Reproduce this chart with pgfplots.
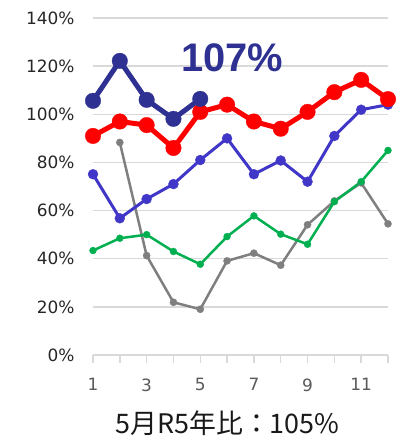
\documentclass[border=0pt]{standalone}
\usepackage{fontspec}
\setmainfont{DejaVu Sans}
\newfontfamily\cjk{Noto Sans CJK JP}
\newfontfamily\arialf{Liberation Sans}
\usepackage{pgfplots}
\pgfplotsset{compat=1.18}
\definecolor{navy}{HTML}{2E3192}
\definecolor{myred}{HTML}{FF0000}
\definecolor{myblue}{HTML}{4036C8}
\definecolor{mygreen}{HTML}{00B050}
\definecolor{mygray}{HTML}{7F7F7F}
\definecolor{gridgray}{HTML}{D9D9D9}
\definecolor{xgray}{HTML}{595959}
\begin{document}
\begin{tikzpicture}
\useasboundingbox (-93bp,-90bp) rectangle (309bp,355bp);
\begin{axis}[
 scale only axis, width=295bp, height=337bp,
 xmin=1, xmax=12, ymin=0, ymax=140,
 axis x line*=bottom, axis y line*=left,
 x axis line style={draw=gridgray, line width=1.5bp, -},
 y axis line style={draw=none, -},
 xtick={1,3,5,7,9,11}, minor xtick={2,4,6,8,10,12},
 tick align=outside, major tick length=8bp, minor tick length=8bp,
 xtick style={draw=gridgray, line width=1.5bp},
 minor tick style={draw=gridgray, line width=1.5bp},
 ytick={0,20,...,140}, ytick style={draw=none},
 ymajorgrids, grid style={draw=gridgray, line width=1.5bp},
 yticklabel={\pgfmathprintnumber{\tick}\%},
 /pgf/number format/assume math mode=true,
 ticklabel style={font=\fontsize{17}{17}\selectfont},
 yticklabel style={text=black!85, xshift=-7bp},
 xticklabel style={text=xgray, yshift=-12bp},
 clip=false,
 line join=round,
]
\addplot[mygray, line width=2.5bp, mark=*, mark size=3.6bp, mark options={line width=0.3bp}] coordinates {
 (2,88.3) (3,41.3) (4,21.9) (5,19) (6,39.1) (7,42.3) (8,37.3) (9,54.1) (10,64) (11,71.5) (12,54.5)};
\addplot[mygreen, line width=2.5bp, mark=*, mark size=3.5bp, mark options={line width=0.3bp}] coordinates {
 (1,43.4) (2,48.5) (3,50) (4,43) (5,37.7) (6,49.2) (7,57.8) (8,50.2) (9,46) (10,63.7) (11,72) (12,85)};
\addplot[myblue, line width=3bp, mark=*, mark size=5bp, mark options={line width=0.3bp}] coordinates {
 (1,75.1) (2,56.8) (3,64.8) (4,71) (5,81) (6,90) (7,75.1) (8,80.8) (9,72) (10,91) (11,101.9) (12,104)};
\addplot[myred, line width=5bp, mark=*, mark size=7.8bp, mark options={line width=0.3bp}] coordinates {
 (1,91) (2,97) (3,95.5) (4,86) (5,101) (6,104) (7,97) (8,94) (9,101) (10,109.2) (11,114.3) (12,106.3)};
\addplot[navy, line width=5bp, mark=*, mark size=7.8bp, mark options={line width=0.3bp}] coordinates {
 (1,105.6) (2,122.2) (3,106) (4,98.1) (5,106.4)};
\node[text=navy, inner sep=0pt, anchor=center, font=\arialf\bfseries\fontsize{40}{40}\selectfont] at (axis cs:6.2,123.4) {107\%};
\end{axis}
\node[anchor=base, inner sep=0pt, font=\cjk\fontsize{27}{27}\selectfont, text=black!90] at (134.5bp,-78bp) {5月R5年比：105\%};
\end{tikzpicture}
\end{document}
